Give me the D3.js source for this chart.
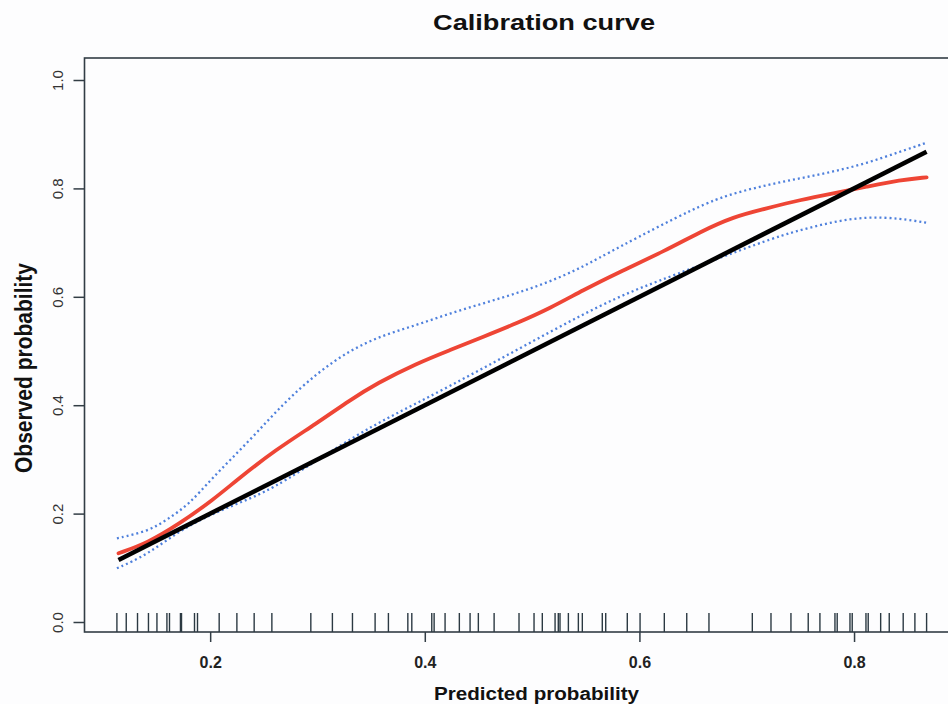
<!DOCTYPE html>
<html>
<head>
<meta charset="utf-8">
<script src="https://cdn.jsdelivr.net/npm/d3@7"></script>
<style>
  body { margin: 0; background: #fdfdfe; }
  svg { display: block; font-family: "Liberation Sans", Arial, Helvetica, sans-serif; }
</style>
</head>
<body>
<svg id="chart" width="948" height="704"></svg>
<script>
// values (predicted -> observed)
var observed_x = [0.1146, 0.141, 0.1721, 0.2031, 0.2249, 0.2606, 0.2994, 0.3304, 0.3553, 0.3926, 0.4236, 0.4546, 0.4857, 0.5167, 0.5477, 0.5789, 0.6254, 0.6564, 0.6875, 0.7186, 0.7496, 0.7806, 0.8117, 0.8428, 0.8676];
var observed_y = [0.1268, 0.1452, 0.1821, 0.226, 0.262, 0.3173, 0.3666, 0.4096, 0.4404, 0.4773, 0.5018, 0.5264, 0.5511, 0.5788, 0.6125, 0.6434, 0.6863, 0.7196, 0.7478, 0.7633, 0.7786, 0.791, 0.8031, 0.8155, 0.8205];

var upper_x = [0.1131, 0.141, 0.1597, 0.1814, 0.2, 0.2373, 0.2683, 0.2994, 0.3304, 0.3614, 0.3926, 0.4236, 0.4546, 0.4857, 0.5167, 0.5477, 0.5757, 0.6564, 0.6875, 0.7186, 0.7496, 0.7806, 0.8117, 0.8428, 0.8676];
var upper_y = [0.1544, 0.1666, 0.1882, 0.219, 0.262, 0.3358, 0.4035, 0.4589, 0.5018, 0.5295, 0.548, 0.5696, 0.588, 0.6065, 0.6279, 0.6555, 0.6863, 0.7694, 0.791, 0.8063, 0.8186, 0.8308, 0.8463, 0.8677, 0.8843];

var lower_x = [0.1131, 0.141, 0.1721, 0.2031, 0.2342, 0.2652, 0.3397, 0.3926, 0.4546, 0.5167, 0.5789, 0.6285, 0.7186, 0.7496, 0.7806, 0.8117, 0.8428, 0.8676];
var lower_y = [0.0991, 0.1236, 0.1697, 0.2006, 0.2251, 0.2528, 0.3511, 0.4035, 0.4681, 0.5356, 0.6002, 0.6371, 0.7048, 0.7232, 0.7386, 0.7478, 0.7448, 0.7367];

var ideal_range = [0.1146, 0.8676];

var rug_values = [0.1131, 0.1218, 0.1323, 0.1425, 0.1504, 0.1597, 0.1621, 0.1723, 0.1733, 0.1854, 0.1882, 0.2084, 0.2249, 0.241, 0.2575, 0.2938, 0.3139, 0.3326, 0.3537, 0.3661, 0.3842, 0.3879, 0.4065, 0.4087, 0.4189, 0.4322, 0.4422, 0.4499, 0.4646, 0.4878, 0.5018, 0.5095, 0.5214, 0.5244, 0.526, 0.5338, 0.5431, 0.5468, 0.5654, 0.5686, 0.5887, 0.6006, 0.6232, 0.6441, 0.6648, 0.7052, 0.7226, 0.7412, 0.7573, 0.7682, 0.7822, 0.7843, 0.7962, 0.7983, 0.8111, 0.8132, 0.8248, 0.8328, 0.8458, 0.8567, 0.8676];

var x_ticks = [0.2, 0.4, 0.6, 0.8];
var y_ticks = [0.0, 0.2, 0.4, 0.6, 0.8, 1.0];

var svg = d3.select("#chart");

var plot_left = 84.5, plot_right = 959, plot_top = 58, plot_bottom = 632;

var x = d3.scaleLinear().domain([0.0829, 0.8978]).range([plot_left, plot_right]);
var y = d3.scaleLinear().domain([-0.01845, 1.0406]).range([plot_bottom, plot_top]);

var axis_color = "#323d45";

function pairs(xs, ys) {
  return xs.map(function(v, i) { return [v, ys[i]]; });
}

// smoothed like the loess output in the original
var line = d3.line()
  .x(function(d) { return x(d[0]); })
  .y(function(d) { return y(d[1]); })
  .curve(d3.curveBasis);

// title + axis labels
svg.append("text")
  .attr("x", 544).attr("y", 29.5)
  .attr("text-anchor", "middle")
  .attr("font-size", 22).attr("font-weight", "bold")
  .attr("textLength", 222).attr("lengthAdjust", "spacingAndGlyphs")
  .attr("fill", "#111")
  .text("Calibration curve");

svg.append("text")
  .attr("x", 536.5).attr("y", 700)
  .attr("text-anchor", "middle")
  .attr("font-size", 18).attr("font-weight", "bold")
  .attr("textLength", 205).attr("lengthAdjust", "spacingAndGlyphs")
  .attr("fill", "#111")
  .text("Predicted probability");

svg.append("text")
  .attr("transform", "translate(32,368) rotate(-90)")
  .attr("text-anchor", "middle")
  .attr("font-size", 23).attr("font-weight", "bold")
  .attr("textLength", 210).attr("lengthAdjust", "spacingAndGlyphs")
  .attr("fill", "#111")
  .text("Observed probability");

// axes
var x_axis = svg.append("g")
  .attr("transform", "translate(0," + plot_bottom + ")")
  .call(d3.axisBottom(x).tickValues(x_ticks).tickSize(10).tickFormat(d3.format(".1f")));

x_axis.select(".domain").remove();
x_axis.selectAll("line").attr("stroke", axis_color).attr("stroke-width", 1.5);
x_axis.selectAll("text")
  .attr("y", 36).attr("dy", null)
  .attr("font-size", 16).attr("font-weight", "bold")
  .attr("font-family", "\"Liberation Sans\", Arial, sans-serif")
  .attr("fill", "#222");

var y_axis = svg.append("g")
  .attr("transform", "translate(" + plot_left + ",0)")
  .call(d3.axisLeft(y).tickValues(y_ticks).tickSize(11).tickFormat(d3.format(".1f")));

y_axis.select(".domain").remove();
y_axis.selectAll("line").attr("stroke", axis_color).attr("stroke-width", 1.5);
y_axis.selectAll("text")
  .attr("x", null).attr("dy", null)
  .attr("text-anchor", "middle")
  .attr("transform", "translate(-22,0) rotate(-90)")
  .attr("font-size", 15)
  .attr("font-family", "\"Liberation Sans\", Arial, sans-serif")
  .attr("fill", "#333");

// plot box
svg.append("rect")
  .attr("x", plot_left).attr("y", plot_top)
  .attr("width", plot_right - plot_left).attr("height", plot_bottom - plot_top)
  .attr("fill", "none")
  .attr("stroke", axis_color)
  .attr("stroke-width", 1.6);

// rug
svg.selectAll(".rug")
  .data(rug_values)
  .enter()
  .append("line")
  .attr("class", "rug")
  .attr("x1", d => x(d)).attr("x2", d => x(d))
  .attr("y1", plot_bottom - 19).attr("y2", plot_bottom)
  .attr("stroke", "#2b3942")
  .attr("stroke-width", 1.4);

// confidence band (dotted blue)
[pairs(upper_x, upper_y), pairs(lower_x, lower_y)].forEach(function(band) {
  svg.append("path")
    .datum(band)
    .attr("d", line)
    .attr("fill", "none")
    .attr("stroke", "#4f80dc")
    .attr("stroke-width", 2.3)
    .attr("stroke-dasharray", "2,3");
});

// observed curve
svg.append("path")
  .datum(pairs(observed_x, observed_y))
  .attr("d", line)
  .attr("fill", "none")
  .attr("stroke", "#ee4535")
  .attr("stroke-width", 3.8)
  .attr("stroke-linecap", "round");

// ideal line
svg.append("path")
  .datum(ideal_range.map(function(v) { return [v, v]; }))
  .attr("d", d3.line().x(d => x(d[0])).y(d => y(d[1])))
  .attr("fill", "none")
  .attr("stroke", "#000")
  .attr("stroke-width", 4.5);
</script>
</body>
</html>
